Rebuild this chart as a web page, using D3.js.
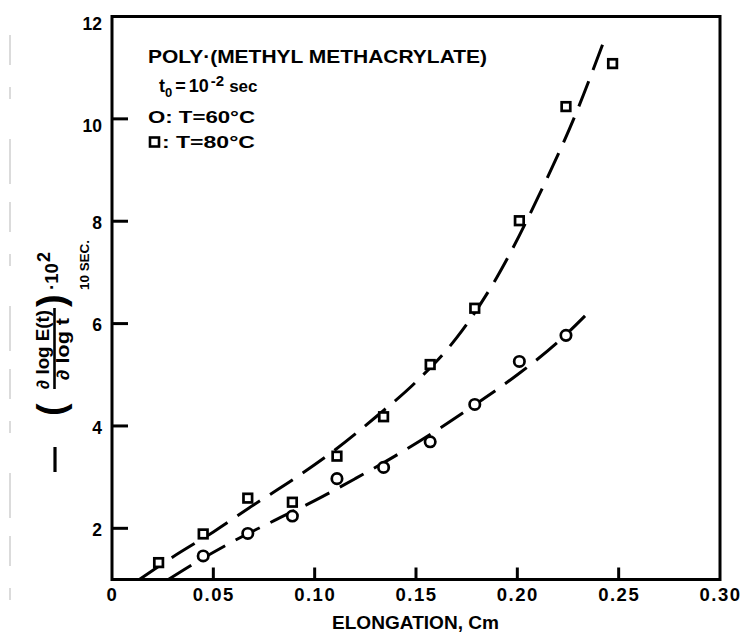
<!DOCTYPE html>
<html>
<head>
<meta charset="utf-8">
<script src="https://cdn.jsdelivr.net/npm/d3@7"></script>
<style>
  html, body { margin: 0; padding: 0; background: #fff; }
  svg { display: block; }
  text { font-family: "Liberation Sans", Arial, sans-serif; font-weight: bold; fill: #000; }
</style>
</head>
<body>
<svg id="chart" width="750" height="642"></svg>
<script>
// Measured slope values, -(d log E / d log t)·10², versus elongation (cm)
const elongation80 = [0.023, 0.045, 0.067, 0.089, 0.111, 0.134, 0.157, 0.179, 0.201, 0.224, 0.247];
const slope80      = [1.33, 1.89, 2.59, 2.51, 3.41, 4.18, 5.20, 6.30, 8.01, 10.24, 11.08];
const elongation60 = [0.045, 0.067, 0.089, 0.111, 0.134, 0.157, 0.179, 0.201, 0.224];
const slope60      = [1.46, 1.90, 2.24, 2.97, 3.19, 3.69, 4.42, 5.26, 5.77];

// Hand-drawn trend curves through each set
const trend80X = [0.0135, 0.03, 0.05, 0.07, 0.09, 0.11, 0.13, 0.15, 0.17, 0.19, 0.21, 0.23, 0.2428];
const trend80Y = [1.0, 1.44, 1.93, 2.46, 2.97, 3.53, 4.17, 4.86, 5.72, 6.91, 8.45, 10.21, 11.53];
const trend60X = [0.0278, 0.04, 0.06, 0.08, 0.10, 0.12, 0.14, 0.16, 0.18, 0.20, 0.22, 0.2359];
const trend60Y = [1.0, 1.30, 1.75, 2.15, 2.54, 2.97, 3.42, 3.91, 4.44, 5.00, 5.64, 6.25];

// Axis ticks
const xTicks = [0, 0.05, 0.10, 0.15, 0.20, 0.25, 0.30];
const xTickLabels = ["0", "0.05", "0.10", "0.15", "0.20", "0.25", "0.30"];
const yTicks = [2, 4, 6, 8, 10, 12];
const yTickLabels = ["2", "4", "6", "8", "10", "12"];

const svg = d3.select("#chart");
const plotLeft = 112, plotRight = 720, plotTop = 16.5, plotBottom = 579.5;

const x = d3.scaleLinear().domain([0, 0.30]).range([plotLeft, plotRight]);
const y = d3.scaleLinear().domain([1, 12]).range([plotBottom, plotTop]);

// faint scanner streak along the left margin
svg.append("line")
  .attr("x1", 10).attr("x2", 10).attr("y1", 35).attr("y2", 625)
  .attr("stroke", "#c4c4c4").attr("stroke-width", 1.2)
  .attr("stroke-dasharray", "30,22,12,40,45,18");

// Axes: labels from d3 axes, short inward tick marks drawn from the same scales
const xAxis = d3.axisBottom(x)
  .tickValues(xTicks)
  .tickSize(0)
  .tickPadding(8.5)
  .tickFormat((d, i) => xTickLabels[i]);
const gx = svg.append("g").attr("transform", `translate(0,${plotBottom})`).call(xAxis);
gx.select(".domain").remove();
gx.selectAll(".tick text")
  .style("font-size", "18.5px").style("letter-spacing", "1.5px")
  .attr("fill", "#000");

const yAxis = d3.axisLeft(y)
  .tickValues(yTicks)
  .tickSize(0)
  .tickPadding(10)
  .tickFormat((d, i) => yTickLabels[i]);
const gy = svg.append("g").attr("transform", `translate(${plotLeft},0)`).call(yAxis);
gy.select(".domain").remove();
// the two upper numerals hang just below their ticks; the rest sit centred on them
gy.selectAll(".tick text")
  .style("font-size", "17.5px")
  .attr("dy", d => (d >= 10 ? "0.75em" : "0.42em"))
  .attr("fill", "#000");

const tickMarks = svg.append("g");
tickMarks.selectAll("line.xt")
  .data(xTicks.slice(1, -1))
  .join("line").attr("class", "xt")
  .attr("x1", d => x(d)).attr("x2", d => x(d))
  .attr("y1", plotBottom).attr("y2", plotBottom - 12)
  .attr("stroke", "#000").attr("stroke-width", 3);
tickMarks.selectAll("line.yt")
  .data(yTicks.slice(0, -1))
  .join("line").attr("class", "yt")
  .attr("x1", plotLeft).attr("x2", plotLeft + 16)
  .attr("y1", d => y(d)).attr("y2", d => y(d))
  .attr("stroke", "#000").attr("stroke-width", 3);

// plot frame
svg.append("rect")
  .attr("x", plotLeft).attr("y", plotTop)
  .attr("width", plotRight - plotLeft).attr("height", plotBottom - plotTop)
  .attr("fill", "none").attr("stroke", "#000").attr("stroke-width", 3);

// dashed trend curves
const line = d3.line()
  .x(d => x(d[0])).y(d => y(d[1]))
  .curve(d3.curveMonotoneX);

[[trend80X, trend80Y], [trend60X, trend60Y]].forEach(([xs, ys]) => {
  svg.append("path")
    .datum(xs.map((v, i) => [v, ys[i]]))
    .attr("d", line)
    .attr("fill", "none")
    .attr("stroke", "#000")
    .attr("stroke-width", 3)
    .attr("stroke-dasharray", "27,12");
});

// markers: squares for 80 °C, circles for 60 °C
const sq = 8.6;
svg.append("g").selectAll("rect")
  .data(elongation80.map((v, i) => [v, slope80[i]]))
  .join("rect")
  .attr("x", d => x(d[0]) - sq / 2)
  .attr("y", d => y(d[1]) - sq / 2)
  .attr("width", sq).attr("height", sq)
  .attr("fill", "#fff").attr("stroke", "#000").attr("stroke-width", 2.7);

svg.append("g").selectAll("circle")
  .data(elongation60.map((v, i) => [v, slope60[i]]))
  .join("circle")
  .attr("cx", d => x(d[0])).attr("cy", d => y(d[1]))
  .attr("r", 5.2)
  .attr("fill", "#fff").attr("stroke", "#000").attr("stroke-width", 2.7);

// legend block
svg.append("text")
  .attr("x", 148).attr("y", 63)
  .attr("textLength", 339).attr("lengthAdjust", "spacingAndGlyphs")
  .style("font-size", "18px")
  .text("POLY·(METHYL METHACRYLATE)");

const t0 = svg.append("text").attr("x", 159).attr("y", 92).style("font-size", "18px");
t0.append("tspan").text("t");
t0.append("tspan").attr("dy", 5).style("font-size", "13px").text("0");
t0.append("tspan").attr("dy", -5).attr("dx", 3).text("=");
t0.append("tspan").attr("dx", 3).text("10");
t0.append("tspan").attr("dy", -6).attr("dx", 2).style("font-size", "15px").text("-2");
t0.append("tspan").attr("dy", 6).attr("dx", 5).style("font-size", "17px").text("sec");

svg.append("text")
  .attr("x", 148).attr("y", 123)
  .attr("textLength", 107).attr("lengthAdjust", "spacingAndGlyphs")
  .style("font-size", "17px")
  .text("O: T=60°C");
// legend square symbol drawn as a shape so it carries the marker's stroke weight
svg.append("rect")
  .attr("x", 150).attr("y", 137.5).attr("width", 9).attr("height", 9)
  .attr("fill", "#fff").attr("stroke", "#000").attr("stroke-width", 2.6);
svg.append("text")
  .attr("x", 162).attr("y", 148)
  .attr("textLength", 93).attr("lengthAdjust", "spacingAndGlyphs")
  .style("font-size", "17px")
  .text(": T=80°C");

// x-axis title
svg.append("text")
  .attr("x", 332).attr("y", 629)
  .attr("textLength", 167).attr("lengthAdjust", "spacingAndGlyphs")
  .style("font-size", "19px")
  .text("ELONGATION, Cm");

// y-axis title, written bottom-to-top
const yt = svg.append("g").attr("transform", "translate(52,420) rotate(-90)");
yt.append("line")
  .attr("x1", -52).attr("x2", -27).attr("y1", 3).attr("y2", 3)
  .attr("stroke", "#000").attr("stroke-width", 3.2);
yt.append("text").attr("x", 4).attr("y", 12).style("font-size", "38px").text("(");
yt.append("text").attr("x", 31).attr("y", -3)
  .attr("textLength", 79).attr("lengthAdjust", "spacingAndGlyphs")
  .style("font-size", "17.5px").text("\u2202 log E(t)");
yt.append("line")
  .attr("x1", 31).attr("x2", 112).attr("y1", 2.5).attr("y2", 2.5)
  .attr("stroke", "#000").attr("stroke-width", 2.6);
yt.append("text").attr("x", 40).attr("y", 17)
  .attr("textLength", 62).attr("lengthAdjust", "spacingAndGlyphs")
  .style("font-size", "17.5px").text("\u2202 log t");
yt.append("text").attr("x", 113).attr("y", 12).style("font-size", "38px").text(")");
yt.append("text").attr("x", 130).attr("y", 6)
  .attr("textLength", 27).attr("lengthAdjust", "spacingAndGlyphs")
  .style("font-size", "17.5px").text("·10");
yt.append("text").attr("x", 158).attr("y", -2)
  .style("font-size", "18px").text("2");
yt.append("text").attr("x", 130).attr("y", 37)
  .attr("textLength", 50).attr("lengthAdjust", "spacingAndGlyphs")
  .style("font-size", "12.5px").text("10 SEC.");
</script>
</body>
</html>
